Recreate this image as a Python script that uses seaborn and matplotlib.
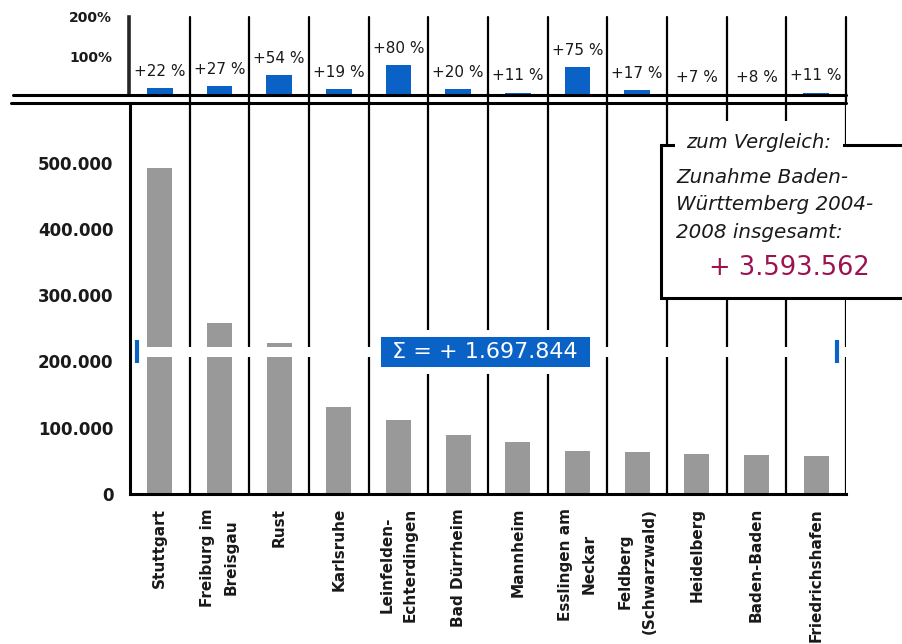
import matplotlib
matplotlib.use("Agg")
import matplotlib.pyplot as plt
import seaborn as sns
import pandas as pd
import numpy as np
from matplotlib.lines import Line2D
from matplotlib.patches import Rectangle

# ---------------- data ----------------
cities = ["Stuttgart", "Freiburg im\nBreisgau", "Rust", "Karlsruhe",
          "Leinfelden-\nEchterdingen", "Bad Dürrheim", "Mannheim",
          "Esslingen am\nNeckar", "Feldberg\n(Schwarzwald)", "Heidelberg",
          "Baden-Baden", "Friedrichshafen"]
increase = [492000, 258000, 228000, 131000, 112000, 89000,
            79000, 65000, 63000, 61000, 59000, 58000]
growth_pct = [22, 27, 54, 19, 80, 20, 11, 75, 17, 7, 8, 11]

y_ticks = [0, 100000, 200000, 300000, 400000, 500000]
y_tick_labels = ["0", "100.000", "200.000", "300.000", "400.000", "500.000"]
pct_ticks = [100, 200]
pct_tick_labels = ["100%", "200%"]

sum_label = "Σ = + 1.697.844"
compare_title = "zum Vergleich:"
compare_lines = ["Zunahme Baden-", "Württemberg 2004-", "2008 insgesamt:"]
compare_value = "+ 3.593.562"

BREAK_LOW, BREAK_HIGH = 207000, 222000

# ---------------- style ----------------
sns.set_style("white")
plt.rcParams["font.family"] = ["DejaVu Sans"]

GRAY = "#999999"
BLUE = "#0a62c6"
CRIMSON = "#9b1350"
DARK = "#1a1a1a"

W, H = 902, 644
def fx(px):
    return px / W
def fy(py):
    return 1 - py / H

fig = plt.figure(figsize=(W / 100, H / 100), dpi=100)
fig.patch.set_facecolor("white")

ax = fig.add_axes([fx(130), fy(494), fx(846) - fx(130), fy(103) - fy(494)])
axt = fig.add_axes([fx(129), fy(95), fx(846) - fx(129), fy(17) - fy(95)])

df = pd.DataFrame({"city": cities, "increase": increase, "pct": growth_pct})

# ---------------- main panel ----------------
sns.barplot(data=df, x="city", y="increase", color=GRAY, saturation=1,
            width=0.42, linewidth=0, ax=ax, zorder=2)
ax.set_xlim(-0.5, 11.5)
ax.set_ylim(0, 590000)
ax.set_xlabel("")
ax.set_ylabel("")
ax.set_yticks(y_ticks)
ax.set_yticklabels(y_tick_labels, fontsize=12, fontweight="bold", color=DARK)
ax.tick_params(axis="y", length=6, width=1.8, pad=6, color="black")
ax.set_xticks(range(len(cities)))
ax.set_xticklabels(cities, rotation=90, ha="center", va="top", fontsize=11,
                   fontweight="bold", linespacing=1.7, multialignment="center",
                   color=DARK)
ax.tick_params(axis="x", which="major", length=0, pad=10)
ax.set_xticks(np.arange(-0.5, len(cities), 1), minor=True)
ax.tick_params(axis="x", which="minor", length=6, width=1.8, direction="out",
               color="black")
for s in ["top", "right"]:
    ax.spines[s].set_visible(False)
for s in ["left", "bottom"]:
    ax.spines[s].set_linewidth(2.2)
    ax.spines[s].set_color("black")
ax.spines["left"].set_zorder(4)

for b in np.arange(0.5, len(cities), 1):
    ax.axvline(b, color="black", lw=1.6, zorder=1.5)

# axis break band
ax.axhspan(BREAK_LOW, BREAK_HIGH, color="white", lw=0, zorder=3)
for xb in (-0.38, 11.35):
    ax.plot([xb, xb], [BREAK_LOW - 9000, BREAK_HIGH + 10000], color=BLUE,
            lw=3, solid_capstyle="butt", zorder=5)

ax.text(5.45, (BREAK_LOW + BREAK_HIGH) / 2, " " + sum_label + " ",
        ha="center", va="center", color="white", fontsize=16, zorder=6,
        bbox=dict(boxstyle="square,pad=0.38", fc=BLUE, ec="white", lw=5))

# ---------------- top panel ----------------
sns.barplot(data=df, x="city", y="pct", color=BLUE, saturation=1,
            width=0.43, linewidth=0, ax=axt, zorder=2)
axt.set_xlim(-0.5 - 1 / 59.7, 11.5)
axt.set_ylim(5, 200)
axt.set_xlabel("")
axt.set_ylabel("")
axt.set_yticks(pct_ticks)
axt.set_yticklabels(pct_tick_labels, fontsize=10, fontweight="bold", color=DARK)
axt.tick_params(axis="y", length=7, width=2, pad=5, color="black")
axt.tick_params(axis="x", bottom=False, labelbottom=False)
for s in ["top", "right", "bottom"]:
    axt.spines[s].set_visible(False)
axt.spines["left"].set_linewidth(2.6)
for b in np.arange(0.5, len(cities), 1):
    axt.axvline(b, ymin=-0.105, ymax=1, color="black", lw=1.6, clip_on=False,
                zorder=1.5)
for i, p in enumerate(growth_pct):
    axt.annotate(f"+{p} %", xy=(i, p), xytext=(0, 12),
                 textcoords="offset points", ha="center", va="center",
                 fontsize=11, color=DARK, annotation_clip=False)

# horizontal separator lines
fig.add_artist(Line2D([fx(13), fx(846)], [fy(95), fy(95)], color="black",
                      lw=2.2, transform=fig.transFigure, zorder=5))
fig.add_artist(Line2D([fx(11), fx(846)], [fy(103), fy(103)], color="black",
                      lw=2.2, transform=fig.transFigure, zorder=5))

# ---------------- comparison box ----------------
fig.add_artist(Rectangle((fx(661), fy(298)), fx(915) - fx(661),
                         fy(145) - fy(298), transform=fig.transFigure,
                         fc="white", ec="black", lw=2.2, zorder=10,
                         clip_on=False))
fig.text(fx(759), fy(142), compare_title, ha="center", va="center",
         style="italic", fontsize=14, color=DARK, zorder=11,
         bbox=dict(boxstyle="square,pad=0.6", fc="white", ec="none"))
for k, line in enumerate(compare_lines):
    fig.text(fx(676), fy(177 + 27.5 * k), line, ha="left", va="center",
             style="italic", fontsize=14.3, color=DARK, zorder=12)
fig.text(fx(789), fy(268), compare_value, ha="center", va="center",
         fontsize=18.5, color=CRIMSON, zorder=12)

fig.savefig("out.png", dpi=100, facecolor="white")
